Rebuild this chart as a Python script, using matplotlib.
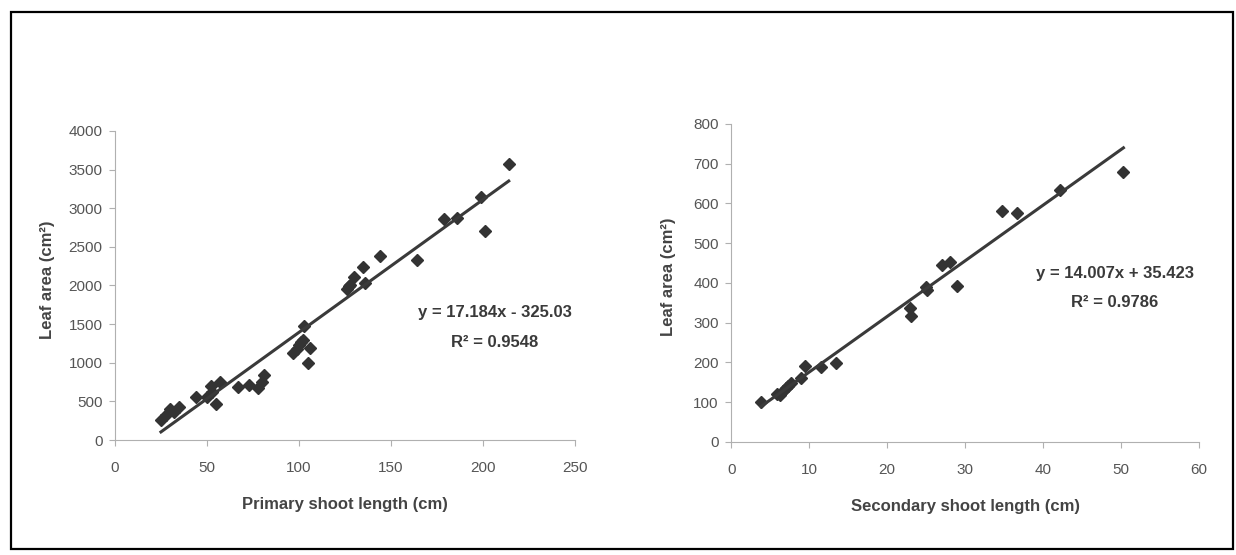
import numpy as np
import matplotlib
matplotlib.use("Agg")
import matplotlib.pyplot as plt
from matplotlib.patches import Rectangle

# Données : longueur de pousse (cm) et surface foliaire (cm2)
x_prim = [25, 28, 30, 32, 35, 44, 50, 52, 53, 55, 57, 67, 73, 78, 80, 81,
          97, 99, 100, 101, 102, 103, 105, 106, 126, 127, 128, 130, 135, 136,
          144, 164, 179, 186, 199, 201, 214]
y_prim = [260, 330, 400, 360, 430, 560, 560, 700, 620, 470, 750, 690, 710, 670, 750, 840,
          1120, 1180, 1230, 1270, 1290, 1470, 1000, 1190, 1950, 1990, 2000, 2110, 2240, 2030,
          2380, 2330, 2860, 2880, 3150, 2710, 3570]
pente_prim, ordo_prim = 17.184, -325.03
eq_prim = ["y = 17.184x - 325.03", "R² = 0.9548"]

x_sec = [3.8, 5.8, 6.2, 6.6, 7.0, 7.3, 7.6, 8.9, 9.5, 11.5, 13.4, 22.9, 23.0, 25.0,
         25.1, 27.0, 28.0, 29.0, 34.7, 36.7, 42.1, 50.3]
y_sec = [101, 120, 117, 128, 135, 140, 147, 160, 191, 189, 199, 336, 317, 390,
         383, 445, 453, 393, 582, 575, 634, 678]
pente_sec, ordo_sec = 14.007, 35.423
eq_sec = ["y = 14.007x + 35.423", "R² = 0.9786"]

plt.rcParams['font.family'] = ['Liberation Sans', 'DejaVu Sans']

fig = plt.figure(figsize=(12.36, 5.55), dpi=100)
fig.patches.append(Rectangle((11 / 1236, 1 - 549 / 555), 1222 / 1236, 537 / 555,
                             transform=fig.transFigure, fill=False,
                             edgecolor='black', linewidth=1.6))

ax1 = fig.add_axes([0.0930, 0.2072, 0.3722, 0.5568])
ax2 = fig.add_axes([0.5917, 0.2041, 0.3784, 0.5725])


def trace(ax, x, y, a, b, eq, xlim, xticks, ylim, yticks, xlabel, eq_pos, ylab_x):
    ax.plot(x, y, linestyle='', marker='D', markersize=6.5, color='#333333')
    xx = np.array([min(x), max(x)])
    ax.plot(xx, a * xx + b, color='#3a3a3a', linewidth=2.2)
    ax.set_xlim(xlim)
    ax.set_ylim(ylim)
    ax.set_xticks(xticks)
    ax.set_yticks(yticks)
    for s in ['top', 'right']:
        ax.spines[s].set_visible(False)
    for s in ['left', 'bottom']:
        ax.spines[s].set_color('#b0b0b0')
        ax.spines[s].set_linewidth(0.8)
    ax.tick_params(colors='#b0b0b0', labelcolor='#555555', labelsize=11, length=4, width=0.8)
    ax.tick_params(axis='x', pad=11)
    ax.tick_params(axis='y', pad=5)
    ax.set_xlabel(xlabel, fontsize=12, fontweight='bold', color='#444444', labelpad=16)
    ax.set_ylabel("Leaf area (cm²)", fontsize=12, fontweight='bold', color='#444444')
    ax.yaxis.set_label_coords(ylab_x, 0.52)
    ax.text(eq_pos[0], eq_pos[1], eq[0], transform=ax.transAxes, ha='center', va='center',
            fontsize=12, fontweight='bold', color='#3a3a3a')
    ax.text(eq_pos[0], eq_pos[2], eq[1], transform=ax.transAxes, ha='center', va='center',
            fontsize=12, fontweight='bold', color='#3a3a3a')


trace(ax1, x_prim, y_prim, pente_prim, ordo_prim, eq_prim, (0, 250), range(0, 251, 50),
      (0, 4000), range(0, 4001, 500), "Primary shoot length (cm)", (0.826, 0.411, 0.317), -0.13)
trace(ax2, x_sec, y_sec, pente_sec, ordo_sec, eq_sec, (0, 60), range(0, 61, 10),
      (0, 800), range(0, 801, 100), "Secondary shoot length (cm)", (0.820, 0.528, 0.437), -0.118)

fig.savefig("out.png", dpi=100)
